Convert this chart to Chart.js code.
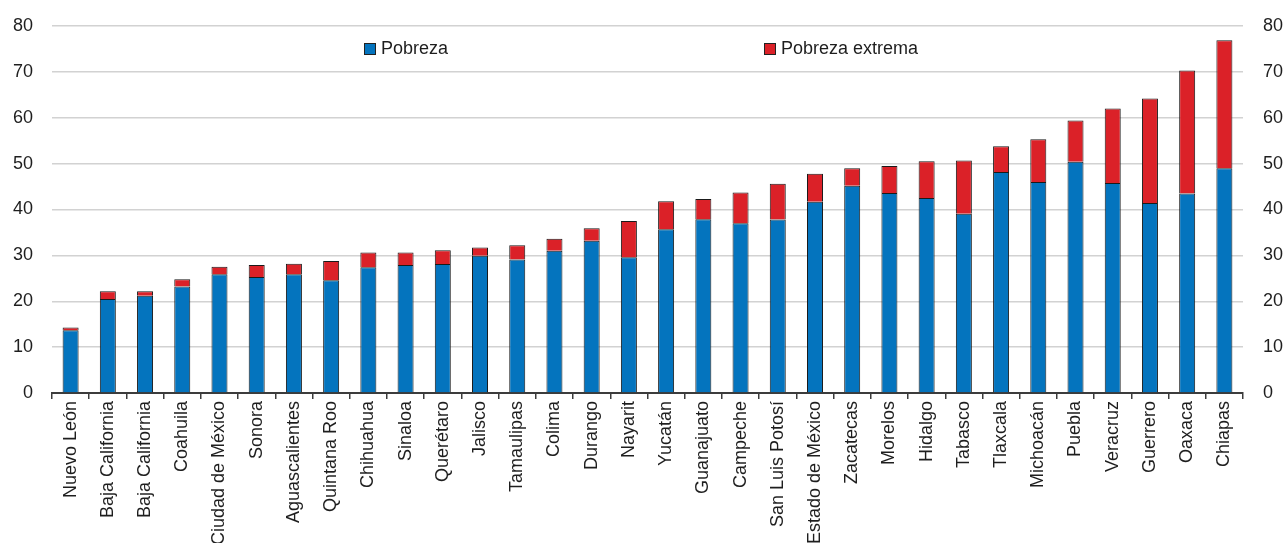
<!DOCTYPE html>
<html lang="es">
<head>
<meta charset="utf-8">
<title>Pobreza por estado</title>
<script src="https://cdn.jsdelivr.net/npm/chart.js@4/dist/chart.umd.min.js"></script>
<style>
  html, body { margin: 0; padding: 0; background: #fff; }
  #wrap { width: 1284px; height: 543px; position: relative; }
</style>
</head>
<body>
<div id="wrap"><canvas id="povertyChart"></canvas></div>
<script>
// Estados, ordenados por pobreza total
const states = [
  "Nuevo León", "Baja California", "Baja California", "Coahuila",
  "Ciudad de México", "Sonora", "Aguascalientes", "Quintana Roo",
  "Chihuahua", "Sinaloa", "Querétaro", "Jalisco", "Tamaulipas", "Colima",
  "Durango", "Nayarit", "Yucatán", "Guanajuato", "Campeche",
  "San Luis Potosí", "Estado de México", "Zacatecas", "Morelos", "Hidalgo",
  "Tabasco", "Tlaxcala", "Michoacán", "Puebla", "Veracruz", "Guerrero",
  "Oaxaca", "Chiapas",
];

// % de la población
const pobreza = [
  13.7, 20.5, 21.2, 23.2, 25.9, 25.3, 25.9, 24.6, 27.4, 27.9, 28.1, 29.9,
  29.1, 31.0, 33.2, 29.6, 35.7, 37.9, 37.0, 37.8, 41.7, 45.2, 43.6, 42.5,
  39.1, 48.2, 46.0, 50.4, 45.8, 41.4, 43.5, 49.0,
];
const pobrezaExtrema = [
  0.6, 1.7, 1.0, 1.6, 1.6, 2.6, 2.3, 4.2, 3.2, 2.7, 3.0, 1.8,
  3.1, 2.6, 2.7, 7.9, 6.1, 4.4, 6.7, 7.8, 6.1, 3.8, 5.9, 8.0,
  11.6, 5.6, 9.3, 9.0, 16.2, 22.8, 26.8, 27.9,
];

const seriesNames = ["Pobreza", "Pobreza extrema"];
const yTicks = [0, 10, 20, 30, 40, 50, 60, 70, 80];

const BLUE = "#0474BE";
const RED = "#DB2128";
const TEXT = "#1e1e1e";

document.addEventListener("DOMContentLoaded", () => {
  Chart.defaults.font.family = "'Liberation Sans', Arial, sans-serif";
  Chart.defaults.font.size = 18;
  Chart.defaults.color = TEXT;

  // Leyenda dentro del área del gráfico, con las entradas separadas
  const insideLegend = {
    id: "insideLegend",
    afterDraw: (chart, args, opts) => {
      const ctx = chart.ctx;
      ctx.save();
      ctx.font = "18px 'Liberation Sans', Arial, sans-serif";
      ctx.textBaseline = "middle";
      chart.data.datasets.forEach((ds, i) => {
        const x = opts.x[i];
        const y = opts.y;
        ctx.fillStyle = ds.backgroundColor;
        ctx.fillRect(x, y - 6, 12, 12);
        ctx.strokeStyle = "#222";
        ctx.lineWidth = 1;
        ctx.strokeRect(x + 0.5, y - 5.5, 11, 11);
        ctx.fillStyle = TEXT;
        ctx.fillText(ds.label, x + 17, y);
      });
      ctx.restore();
    },
  };

  // Ancho fijo de los ejes verticales, sin relleno extra arriba/abajo
  const fixY = (width) => (scale) => {
    scale.width = width;
    scale.paddingTop = 0;
    scale.paddingBottom = 0;
  };

  const ctx = document.querySelector("#povertyChart").getContext("2d");
  new Chart(ctx, {
    type: "bar",
    data: {
      labels: states,
      datasets: [
        {
          label: seriesNames[0],
          data: pobreza,
          backgroundColor: BLUE,
          borderColor: "#1a1a1a",
          borderWidth: 1,
          barPercentage: 0.43,
          categoryPercentage: 1,
        },
        {
          label: seriesNames[1],
          data: pobrezaExtrema,
          backgroundColor: RED,
          borderColor: "#1a1a1a",
          borderWidth: 1,
          barPercentage: 0.43,
          categoryPercentage: 1,
        },
      ],
    },
    options: {
      responsive: true,
      maintainAspectRatio: false,
      animation: false,
      layout: { padding: { top: 26, left: 0, right: 0, bottom: 0 } },
      plugins: {
        legend: { display: false },
        tooltip: { enabled: false },
        insideLegend: { x: [364, 764], y: 49 },
      },
      scales: {
        x: {
          stacked: true,
          offset: true,
          grid: {
            offset: true,
            drawOnChartArea: false,
            drawTicks: true,
            tickLength: 6,
            color: "#3c3c3c",
            lineWidth: 1.5,
          },
          border: { display: true, color: "#3c3c3c", width: 2 },
          ticks: {
            autoSkip: false,
            maxRotation: 90,
            minRotation: 90,
            padding: 2,
            color: TEXT,
          },
          afterFit: (scale) => {
            scale.height = 150;
            scale.paddingLeft = 0;
            scale.paddingRight = 0;
          },
        },
        y: {
          stacked: true,
          position: "left",
          min: 0,
          max: 80,
          afterBuildTicks: (scale) => {
            scale.ticks = yTicks.map((v) => ({ value: v }));
          },
          grid: { color: "#d2d2d2", lineWidth: 1.5, drawTicks: false },
          border: { display: false },
          ticks: { padding: 19, color: TEXT },
          afterFit: fixY(52),
        },
        y2: {
          position: "right",
          min: 0,
          max: 80,
          afterBuildTicks: (scale) => {
            scale.ticks = yTicks.map((v) => ({ value: v }));
          },
          grid: { drawOnChartArea: false, drawTicks: false },
          border: { display: false },
          ticks: { padding: 20, color: TEXT },
          afterFit: fixY(41),
        },
      },
    },
    plugins: [insideLegend],
  });
});
</script>
</body>
</html>
